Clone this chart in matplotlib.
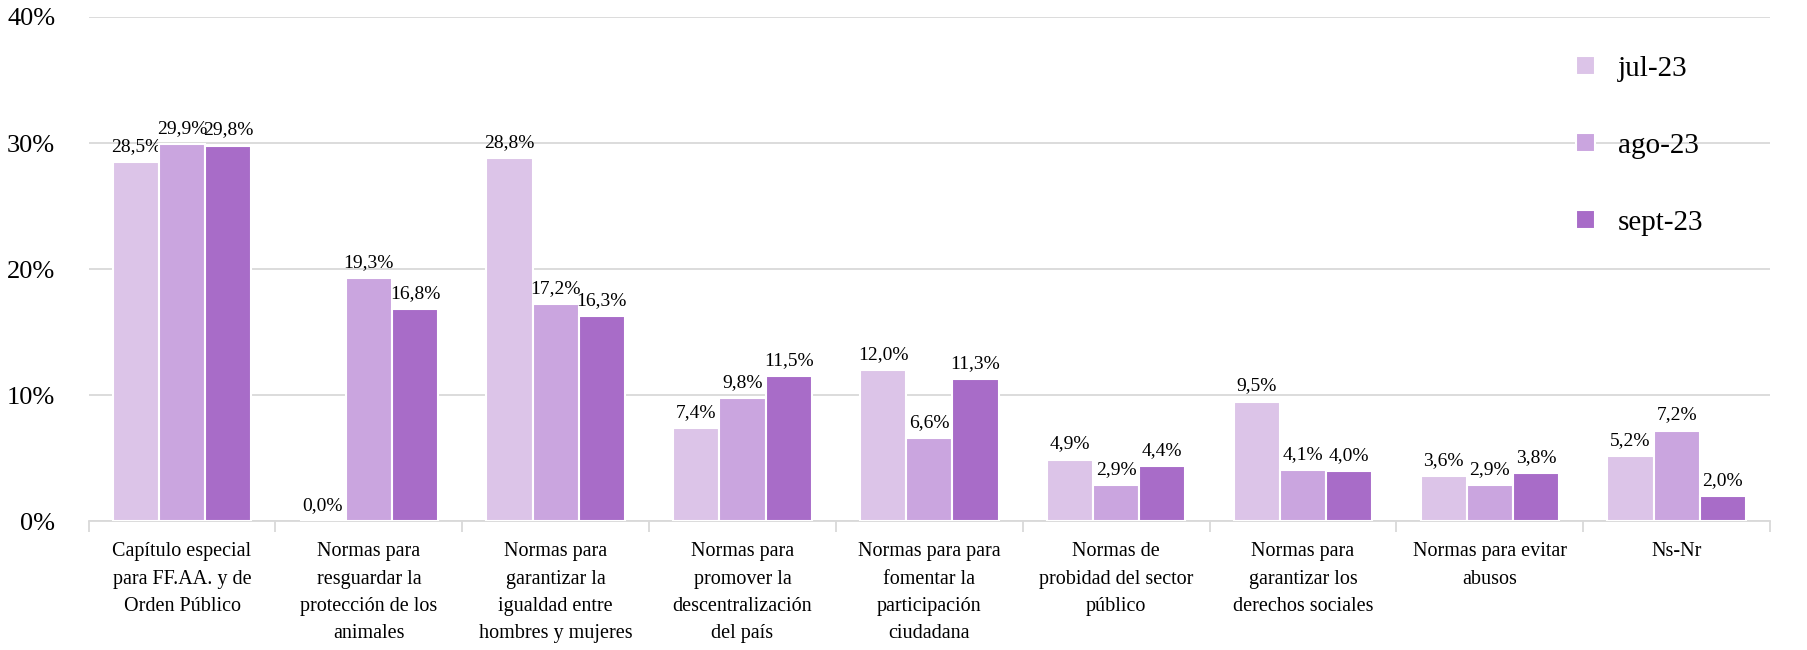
import matplotlib
matplotlib.use("Agg")
from matplotlib import pyplot as plt
import numpy as np

categories = [
	"Capítulo especial\npara FF.AA. y de\nOrden Público",
	"Normas para\nresguardar la\nprotección de los\nanimales",
	"Normas para\ngarantizar la\nigualdad entre\nhombres y mujeres",
	"Normas para\npromover la\ndescentralización\ndel país",
	"Normas para para\nfomentar la\nparticipación\nciudadana",
	"Normas de\nprobidad del sector\npúblico",
	"Normas para\ngarantizar los\nderechos sociales",
	"Normas para evitar\nabusos",
	"Ns-Nr",
]
series_names = ["jul-23", "ago-23", "sept-23"]
jul_23 = [28.5, 0.0, 28.8, 7.4, 12.0, 4.9, 9.5, 3.6, 5.2]
ago_23 = [29.9, 19.3, 17.2, 9.8, 6.6, 2.9, 4.1, 2.9, 7.2]
sept_23 = [29.8, 16.8, 16.3, 11.5, 11.3, 4.4, 4.0, 3.8, 2.0]
colors = ["#DCC4E8", "#CAA5DF", "#A86CC8"]

plt.rcParams['font.family'] = ['Liberation Serif', 'DejaVu Serif']

fig = plt.figure(figsize=(18.08, 6.5), dpi=100)
ax = fig.add_axes([0.049, 0.198, 0.930, 0.776])

x = np.arange(len(categories))
w = 0.247
for i, (name, vals) in enumerate(zip(series_names, [jul_23, ago_23, sept_23])):
	pos = x + (i - 1) * w
	bars = ax.bar(pos, vals, width=w, color=colors[i], edgecolor="white", linewidth=1.5, label=name, zorder=3)
	for b, v in zip(bars, vals):
		ax.annotate(f"{v:.1f}%".replace(".", ","), (b.get_x() + b.get_width() / 2, v),
			xytext=(0, 5), textcoords="offset points", ha="center", va="bottom", fontsize=14)

ax.set_ylim(0, 40)
ax.set_xlim(-0.5, len(categories) - 0.5)
ax.set_yticks([0, 10, 20, 30, 40])
ax.set_yticklabels(["0%", "10%", "20%", "30%", "40%"], fontsize=19)
ax.yaxis.grid(True, color="#D9D9D9", linewidth=1.3, zorder=0)
ax.tick_params(axis="y", length=0, pad=24)

ax.set_xticks(x)
ax.set_xticklabels(categories, fontsize=14.5, linespacing=1.6, va="top")
ax.set_xticks(np.arange(-0.5, len(categories), 1), minor=True)
ax.tick_params(axis="x", which="major", length=0, pad=15)
ax.tick_params(axis="x", which="minor", length=8, color="#D9D9D9", width=1.3)

for s in ["top", "right", "left"]:
	ax.spines[s].set_visible(False)
ax.spines["bottom"].set_color("#D9D9D9")
ax.spines["bottom"].set_linewidth(1.3)

ax.legend(loc="upper left", bbox_to_anchor=(0.857, 0.955), bbox_transform=fig.transFigure,
	frameon=False, fontsize=21, handlelength=0.65, handleheight=0.65, labelspacing=1.75, handletextpad=0.8)

plt.savefig("out.png", dpi=100)
plt.close()
